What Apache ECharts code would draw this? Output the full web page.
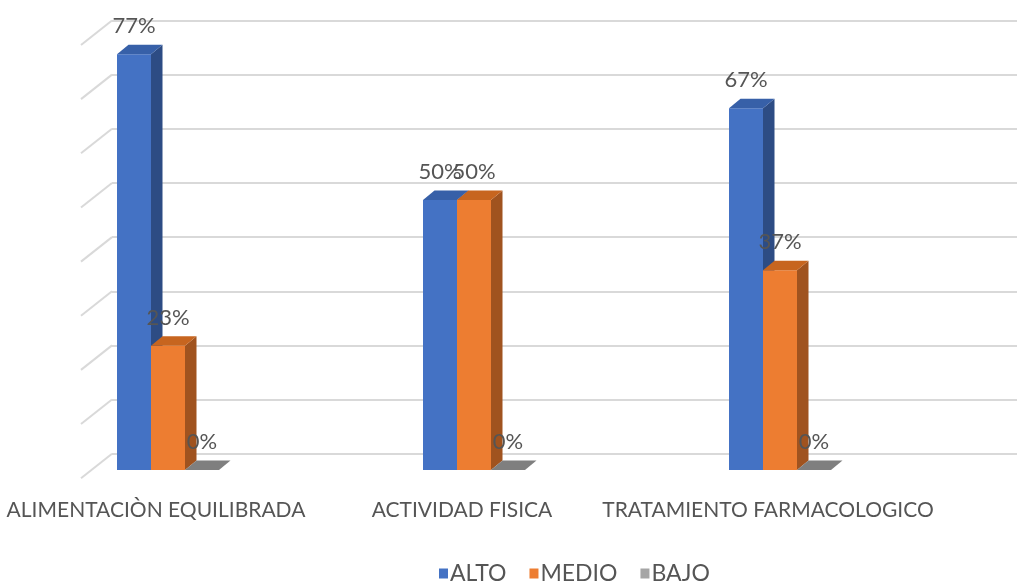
<!DOCTYPE html>
<html>
<head>
<meta charset="utf-8">
<script src="https://cdn.jsdelivr.net/npm/echarts@6/dist/echarts.min.js"></script>
<style>
html,body{margin:0;padding:0;background:#fff;}
#chart{width:1017px;height:582px;}
</style>
</head>
<body>
<div id="chart"></div>
<script>
var categories = ['ALIMENTACIÒN EQUILIBRADA', 'ACTIVIDAD FISICA', 'TRATAMIENTO FARMACOLOGICO'];
var seriesNames = ['ALTO', 'MEDIO', 'BAJO'];
var alto = [0.77, 0.50, 0.67];
var medio = [0.23, 0.50, 0.37];
var bajo = [0, 0, 0];
var gridTicks = [0, 0.1, 0.2, 0.3, 0.4, 0.5, 0.6, 0.7, 0.8];

var FONT = 'Lato, Roboto, sans-serif';
var TXT = '#555555';
var palettes = [
  { front: '#4472C4', side: '#2D4C84', top: '#3760A8' },
  { front: '#ED7D31', side: '#A0531F', top: '#C7651F' },
  { front: '#A5A5A5', side: '#6E6E6E', top: '#7F7F7F' }
];
var DX = 11.5, DY = -9.5;

function makeRender(si) {
  var pal = palettes[si];
  return function (params, api) {
    var cat = api.value(0), val = api.value(1);
    var base = api.coord([cat, 0]);
    var topP = api.coord([cat, val]);
    var band = api.size([1, 0])[0];
    var w = band / 9;
    var x0 = base[0] - 1.5 * w + si * w;
    var x1 = x0 + w;
    var yb = base[1], yt = topP[1];
    var children = [];
    if (yb - yt > 0.5) {
      children.push({ type: 'polygon', shape: { points: [[x0, yb], [x1, yb], [x1, yt], [x0, yt]] }, style: { fill: pal.front } });
      children.push({ type: 'polygon', shape: { points: [[x1, yb], [x1 + DX, yb + DY], [x1 + DX, yt + DY], [x1, yt]] }, style: { fill: pal.side } });
    }
    children.push({ type: 'polygon', shape: { points: [[x0, yt], [x1, yt], [x1 + DX, yt + DY], [x0 + DX, yt + DY]] }, style: { fill: pal.top } });
    children.push({
      type: 'text', z2: 100,
      style: {
        x: (x0 + x1) / 2, y: yt - 28,
        text: Math.round(val * 100) + '%',
        align: 'center', verticalAlign: 'middle',
        fill: TXT, font: '22px ' + FONT
      }
    });
    return { type: 'group', children: children };
  };
}

function toData(arr) {
  return arr.map(function (v, i) { return [i, v]; });
}

var seriesData = [alto, medio, bajo];
var series = [];
series.push({
  type: 'custom',
  name: 'wall',
  xAxisIndex: 0, yAxisIndex: 0,
  clip: false, silent: true,
  data: gridTicks.map(function (v) { return [0, v]; }),
  encode: { x: 0, y: 1 },
  renderItem: function (params, api) {
    var p = api.coord([0, api.value(1)]);
    return {
      type: 'line',
      shape: { x1: p[0] - 31, y1: p[1] + 24.5, x2: p[0], y2: p[1] },
      style: { stroke: '#D9D9D9', lineWidth: 2 }
    };
  }
});
seriesData.forEach(function (arr, si) {
  series.push({
    type: 'custom',
    name: seriesNames[si],
    xAxisIndex: 1, yAxisIndex: 1,
    clip: false,
    itemStyle: { color: palettes[si].front },
    data: toData(arr),
    encode: { x: 0, y: 1 },
    renderItem: makeRender(si)
  });
});

var chart = echarts.init(document.getElementById('chart'), null, { renderer: 'canvas' });
chart.setOption({
  animation: false,
  backgroundColor: '#ffffff',
  grid: [
    { left: 112, right: 0, top: 20.5, bottom: 128.3, outerBoundsMode: 'none', containLabel: false },
    { left: 15, right: 84, top: 38, bottom: 112, outerBoundsMode: 'none', containLabel: false }
  ],
  xAxis: [
    { gridIndex: 0, type: 'value', min: 0, max: 1, show: false },
    {
      gridIndex: 1, type: 'category', data: categories,
      axisLine: { show: false }, axisTick: { show: false },
      axisLabel: {
        color: TXT, fontFamily: FONT, fontSize: 21, margin: 40,
        verticalAlign: 'middle', padding: [0, 24, 0, 0], interval: 0
      }
    }
  ],
  yAxis: [
    {
      gridIndex: 0, type: 'value', min: 0, max: 0.8, interval: 0.1,
      axisLine: { show: false }, axisTick: { show: false }, axisLabel: { show: false },
      splitLine: { show: true, lineStyle: { color: '#D9D9D9', width: 2 } }
    },
    { gridIndex: 1, type: 'value', min: 0, max: 0.8, show: false, splitLine: { show: false } }
  ],
  legend: {
    data: seriesNames,
    left: 434, top: 557,
    icon: 'rect', itemWidth: 9, itemHeight: 10, itemGap: 23,
    textStyle: { color: TXT, fontFamily: FONT, fontSize: 23, padding: [0, 0, 0, -3] }
  },
  series: series
});
</script>
</body>
</html>
